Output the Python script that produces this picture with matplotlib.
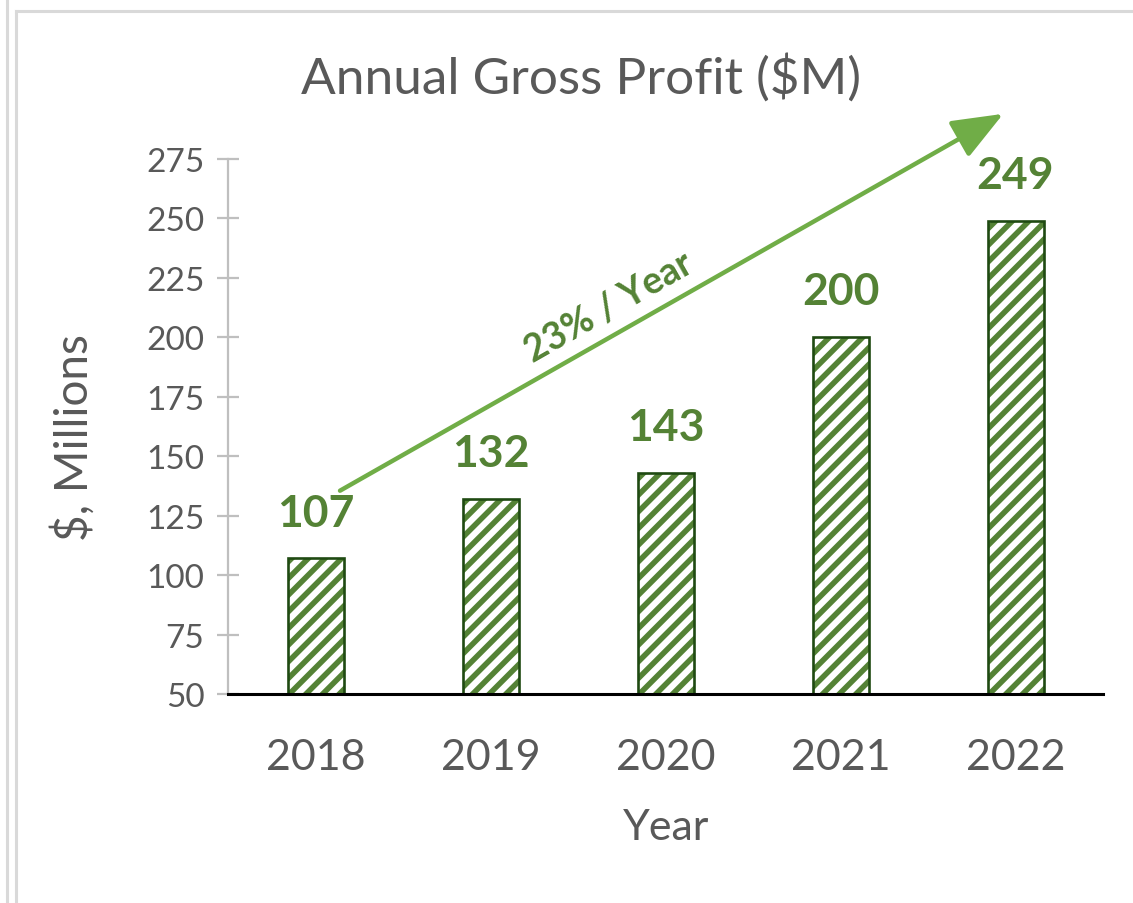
import matplotlib
matplotlib.use("Agg")
import matplotlib.pyplot as plt
from matplotlib.lines import Line2D

years = ["2018", "2019", "2020", "2021", "2022"]
profit = [107, 132, 143, 200, 249]
yticks = [50, 75, 100, 125, 150, 175, 200, 225, 250, 275]
growth_label = "23% / Year"

plt.rcParams['font.family'] = ['Lato', 'DejaVu Sans']
plt.rcParams['hatch.linewidth'] = 4.0

gray = '#595959'
hatch_green = '#548235'
edge_green = '#1f4a12'
arrow_green = '#70AD47'

fig = plt.figure(figsize=(11.33, 9.04), dpi=100)
ax = fig.add_axes([228/1133, 1 - 695/904, 875/1133, 535/904])

x = range(len(years))
# hatched fill, then the dark outline on top
bars = ax.bar(x, profit, width=0.32, bottom=0, color='white',
              edgecolor=hatch_green, hatch='//', linewidth=0, zorder=2)
for b in bars:
    if hasattr(b, 'set_hatch_linewidth'):
        b.set_hatch_linewidth(4.0)
ax.bar(x, profit, width=0.32, bottom=0, fill=False, edgecolor=edge_green,
       linewidth=1.9, zorder=3)

for i, v in enumerate(profit):
    ax.annotate(str(v), (i, v), xytext=(0, 33), textcoords='offset points',
                ha='center', va='center', fontsize=32, fontweight='bold',
                color=hatch_green)

ax.set_xlim(-0.5, 4.5)
ax.set_ylim(50, 275)
ax.set_yticks(yticks)
ax.set_xticks(list(x))
ax.set_xticklabels(years)

for s in ['top', 'right']:
    ax.spines[s].set_visible(False)
ax.spines['left'].set_color('#BFBFBF')
ax.spines['left'].set_linewidth(1.6)
ax.spines['bottom'].set_color('black')
ax.spines['bottom'].set_linewidth(2.2)
ax.spines['bottom'].set_zorder(4)

ax.tick_params(axis='y', direction='inout', length=16, width=1.6,
               color='#BFBFBF', labelcolor=gray, labelsize=24, pad=9)
ax.tick_params(axis='x', length=0, labelcolor=gray, labelsize=31, pad=32)

# growth arrow
ax.annotate('', xy=(3.93, 294), xytext=(0.14, 135.5),
            arrowprops=dict(arrowstyle='-|>,head_length=1.05,head_width=0.42',
                            color=arrow_green, lw=3.2, mutation_scale=30,
                            shrinkA=0, shrinkB=0),
            annotation_clip=False)
fig.text(609/1133, 1 - 307/904, growth_label, rotation=29.6,
         rotation_mode='anchor', ha='center', va='center', fontsize=27,
         fontweight='bold', color=hatch_green)

fig.text(581/1133, 1 - 78/904, "Annual Gross Profit ($M)", ha='center',
         va='center', fontsize=37, color=gray)
fig.text(666/1133, 1 - 828/904, "Year", ha='center', va='center',
         fontsize=31, color=gray)
fig.text(73/1133, 1 - 438/904, "$, Millions", ha='center', va='center',
         rotation=90, fontsize=33, color=gray)

# frame lines of the surrounding sheet
border = '#D9D9D9'
fig.add_artist(Line2D([7/1133, 7/1133], [0, 1], color=border, lw=2.2,
                      transform=fig.transFigure))
fig.add_artist(Line2D([15.5/1133, 15.5/1133], [0, 1 - 12/904], color=border,
                      lw=2.2, transform=fig.transFigure))
fig.add_artist(Line2D([15.5/1133, 1], [1 - 12/904, 1 - 12/904], color=border,
                      lw=2.2, transform=fig.transFigure))

fig.savefig('out.png', dpi=100, facecolor='white')
